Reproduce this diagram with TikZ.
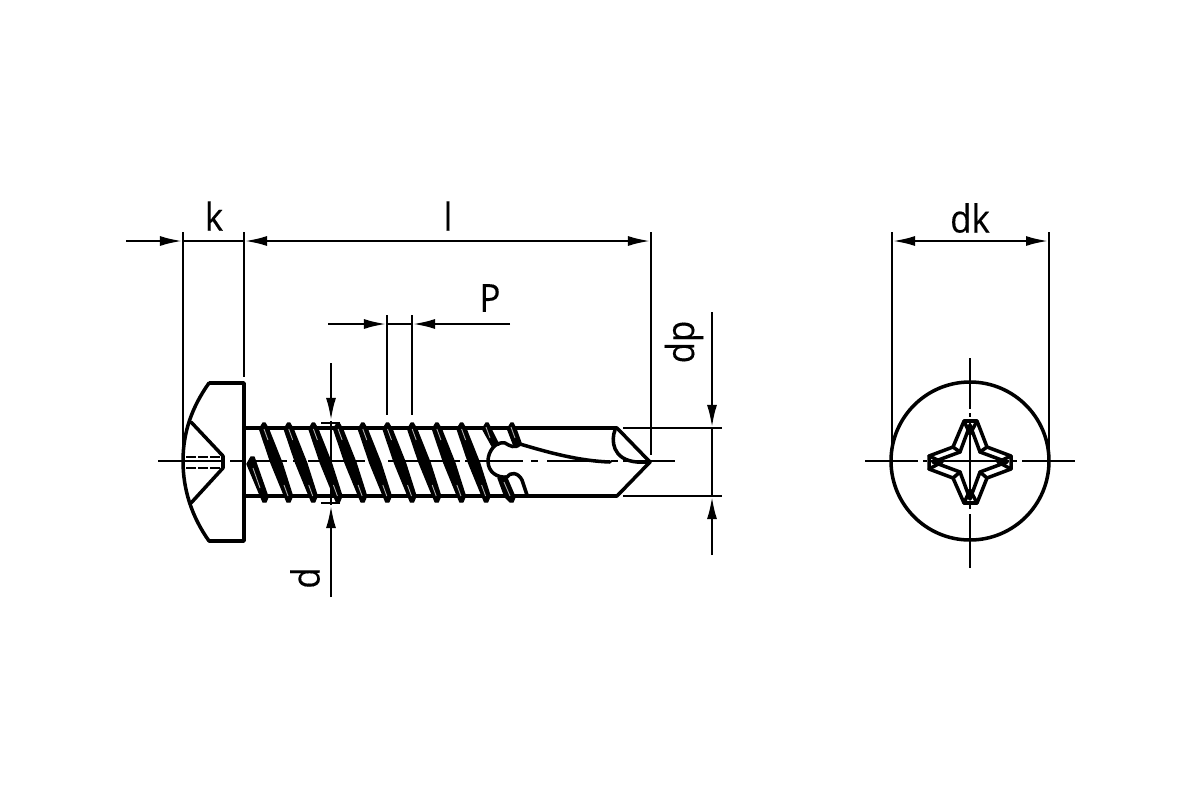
\documentclass[tikz,border=0pt]{standalone}
\usepackage{fontspec}
\setsansfont{Open Sans}[FakeStretch=0.9,FakeBold=0.3]
\usetikzlibrary{arrows.meta,positioning}
\tikzset{
  outline/.style={line width=1pt, line cap=round, line join=round},
  helper/.style={line width=0.8pt},
  dimline/.style={line width=0.8pt, {Latex[length=0.23cm,width=0.1cm]}-{Latex[length=0.23cm,width=0.1cm]}},
  dimarrow/.style={line width=0.8pt, -{Latex[length=0.23cm,width=0.1cm]}},
  centre/.style={line width=0.75pt},
  threadturn/.style={line width=0.4pt, line join=round},
  sliver/.style={white!70!black, line width=0.25pt},
  dimtext/.style={font=\sffamily\fontsize{11}{11}\selectfont, inner sep=0pt}
}
\begin{document}
\begin{tikzpicture}[x=0.01cm,y=-0.01cm]
  \useasboundingbox (0,0) rectangle (1200,800);

  % centre lines
  \foreach \a/\b in {158/223,230/245,250/287,293/300,308/365,372/380,388/460,465/523,531/538,547/603,611/618,623/675}
    \draw[centre] (\a,461) -- (\b,461);
  \foreach \a/\b in {865/918,923/927,931/1009,1013/1017,1022/1075}
    \draw[centre] (\a,461) -- (\b,461);
  \foreach \a/\b in {358/409,413/417,421/500,505/509,514/568}
    \draw[centre] (970,\a) -- (970,\b);

  % head
  \draw[outline] (209,383) -- (244,383) -- (244,541) -- (209,541)
    .. controls (192,517) and (183,490) .. (183,461)
    .. controls (183,432) and (192,407) .. (209,383);
  \draw[outline] (191,422) -- (223,456) -- (223,468) -- (191,503);
  \draw[helper,dash pattern=on 0.1cm off 0.02cm] (186,457) -- (222,457);
  \draw[helper,dash pattern=on 0.1cm off 0.02cm] (186,468) -- (222,468);

  % shank
  \draw[outline] (244,428) -- (617,428) -- (650,462) -- (617,496) -- (527,496);
  \draw[outline] (244,496) -- (527,496);
  \draw[outline] (615,430) .. controls (611,440) and (612,460) .. (637,462) -- (650,462);

  % flute
  \draw[outline] (610,462) .. controls (580,461) and (550,453) .. (520,444)
    .. controls (515,449) and (510,446) .. (505,443)
    .. controls (495,441) and (488,452) .. (488,461)
    .. controls (488,472) and (497,478) .. (507,477)
    .. controls (510,472) and (518,472) .. (522,480) -- (527,495);

  % thread
  \foreach \cx in {264,288.7,313.4,338.1,362.8,387.5,412.2,436.9,461.6} {
    \begin{scope}[shift={(\cx,423)}]
      \filldraw[threadturn] (-1,0) -- (1,0) -- (4.5,6) -- (18,40) -- (28.5,73) -- (26,79) -- (23,79)
        -- (20.5,73) -- (7,40) -- (-4.5,6) -- cycle;
      \draw[sliver] (0,6) -- (4,17);
      \draw[sliver] (20,62) -- (24,73);
    \end{scope}
  }
  \filldraw[threadturn] (486,423) -- (488,423) -- (491,429) -- (499,445) -- (492,446) -- (482.5,429) -- cycle;
  \filldraw[threadturn] (511,423) -- (513,423) -- (516,429) -- (521,443) -- (514,446) -- (507.5,429) -- cycle;
  \filldraw[threadturn] (498,478) -- (506,476) -- (515,497) -- (513,502) -- (510,502) -- (505,497) -- cycle;
  \filldraw[threadturn] (251,457) -- (254,457) -- (268,497) -- (266,502) -- (263,502) -- (247,464) -- cycle;
  \draw[sliver] (253,468) -- (260,488);
  \draw[sliver] (486,427) -- (490,438);
  \draw[sliver] (511,427) -- (515,438);
  \draw[sliver] (504,482) -- (510,496);

  % front view
  \draw[outline] (970,461) circle (79);
  \draw[outline] (964,421) -- (977,421) -- (987,447) -- (1011,456) -- (1011,469) -- (987,478)
    -- (977,503) -- (964,503) -- (953,478) -- (929,469) -- (929,456) -- (953,447) -- cycle;
  \draw[outline] (970,425) -- (980,452) -- (1007,462) -- (980,472) -- (970,499) -- (960,472)
    -- (933,462) -- (960,452) -- cycle;
  \draw[outline] (964,421) -- (970,434) -- (977,421);
  \draw[outline] (964,503) -- (970,490) -- (977,503);
  \draw[outline] (929,456) -- (942,462) -- (929,469);
  \draw[outline] (1011,456) -- (998,462) -- (1011,469);
  \draw[outline] (953,447) -- (960,452);
  \draw[outline] (987,447) -- (980,452);
  \draw[outline] (953,478) -- (960,472);
  \draw[outline] (987,478) -- (980,472);

  % extension lines
  \draw[helper] (183,232) -- (183,461);
  \draw[helper] (244,232) -- (244,377);
  \draw[helper] (651,232) -- (651,455);
  \draw[helper] (387,315) -- (387,415);
  \draw[helper] (412,315) -- (412,415);
  \draw[helper] (623,428) -- (722,428);
  \draw[helper] (623,496) -- (722,496);
  \draw[helper] (892,232) -- (892,461);
  \draw[helper] (1049,232) -- (1049,461);
  \draw[helper] (321,423) -- (340,423);
  \draw[helper] (321,503) -- (340,503);

  % dimensions
  \draw[dimarrow] (126,241) -- (183,241);
  \draw[helper] (183,241) -- (244,241);
  \draw[dimline] (244,241) -- (651,241);
  \draw[dimarrow] (328,324) -- (387,324);
  \draw[helper] (387,324) -- (412,324);
  \draw[dimarrow] (510,324) -- (412,324);
  \draw[dimarrow] (712,312) -- (712,428);
  \draw[helper] (712,428) -- (712,496);
  \draw[dimarrow] (712,555) -- (712,496);
  \draw[dimarrow] (331,363) -- (331,421);
  \draw[helper] (331,421) -- (331,505);
  \draw[dimarrow] (331,597) -- (331,505);
  \draw[dimline] (892,241) -- (1049,241);

  \node[dimtext] (lblk) at (214,216) {k};
  \node[dimtext] (lbll) at (448,216) {l};
  \node[dimtext] (lblp) at (490,298) {P};
  \node[dimtext] (lbldk) at (970,218) {dk};
  \node[dimtext,rotate=90] (lbldp) at (684,342) {dp};
  \node[dimtext,rotate=90] (lbld) at (305,578) {d};
\end{tikzpicture}
\end{document}
